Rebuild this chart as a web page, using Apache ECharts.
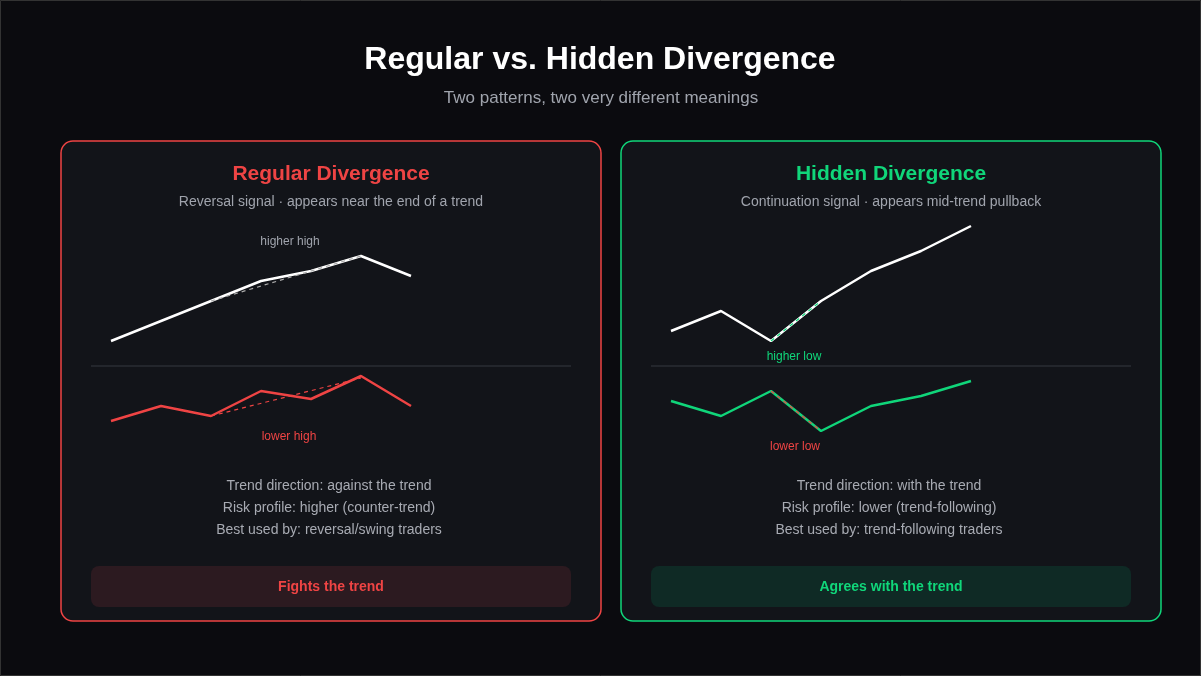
<!DOCTYPE html>
<html><head><meta charset="utf-8">
<script src="https://cdn.jsdelivr.net/npm/echarts@6/dist/echarts.min.js"></script>
<style>html,body{margin:0;padding:0;background:#0b0b0f}#c{width:1201px;height:676px}</style>
</head><body><div id="c"></div>
<script>
const xs = ['1','2','3','4','5','6','7'];
const regPrice = [25,45,65,85,95,110,90];
const regOsc = [45,60,50,75,67,90,60];
const hidPrice = [35,55,25,65,95,115,140];
const hidOsc = [65,50,75,35,60,70,85];
const regPriceDiv = [null,null,65,null,null,110,null];
const regOscDiv = [null,null,50,null,null,88,null];
const hidPriceDiv = [null,null,25,65,null,null,null];
const hidOscDiv = [null,null,75,35,null,null,null];

const RED='#ef4444', GREEN='#10d67a', FONT='Liberation Sans, Arial, sans-serif';
const chart = echarts.init(document.getElementById('c'));
function grid(left, top, h){return {left:left, top:top, width:300, height:h};}
const grids=[grid(111,220,146),grid(111,366,100),grid(671,220,146),grid(671,366,100)];
const maxes=[146,100,146,100];
const xAxis=grids.map((g,i)=>({type:'category',data:xs,gridIndex:i,boundaryGap:false,show:false}));
const yAxis=grids.map((g,i)=>({type:'value',gridIndex:i,min:0,max:maxes[i],show:false}));
function line(i,data,color,dashed){return {type:'line',xAxisIndex:i,yAxisIndex:i,data:data,connectNulls:true,symbol:'none',silent:true,
  lineStyle:{color:color,width:dashed?1.2:2.5,type:dashed?[4,4]:'solid'},z:dashed?3:2};}
const series=[
  line(0,regPrice,'#ffffff'),line(0,regPriceDiv,'#aaaaaa',true),
  line(1,regOsc,RED),line(1,regOscDiv,RED,true),
  line(2,hidPrice,'#ffffff'),line(2,hidPriceDiv,GREEN,true),
  line(3,hidOsc,GREEN),line(3,hidOscDiv,RED,true)
];
function txt(x,y,t,size,color,weight){return {type:'text',x:x,y:y,style:{text:t,fontSize:size,fill:color,fontWeight:weight||'normal',fontFamily:FONT,textAlign:'center',textVerticalAlign:'middle'},z:10};}
function card(x,color,title,sub,lines,foot,footBg){
  const cx=x+270;
  return [
    {type:'rect',shape:{x:x,y:141,width:540,height:480,r:12},style:{fill:'#121419',stroke:color,lineWidth:1.5},z:0},
    txt(cx,174,title,21,color,'bold'),
    txt(cx,202,sub,14,'#a0a4ad'),
    {type:'line',shape:{x1:x+30,y1:366,x2:x+510,y2:366},style:{stroke:'#2a2c33',lineWidth:1.5},z:1},
    txt(cx-2,486,lines[0],14,'#a8abb3'),txt(cx-2,508,lines[1],14,'#a8abb3'),txt(cx-2,530,lines[2],14,'#a8abb3'),
    {type:'rect',shape:{x:x+30,y:566,width:480,height:41,r:8},style:{fill:footBg},z:1},
    txt(cx,587,foot,14,color,'bold')
  ];
}
chart.setOption({
  backgroundColor:'#0b0b0f',animation:false,
  grid:grids,xAxis:xAxis,yAxis:yAxis,series:series,
  graphic:[
    {type:'rect',shape:{x:0.5,y:0.5,width:1200,height:675},style:{fill:'none',stroke:'#333',lineWidth:1},z:0},
    txt(600,60,'Regular vs. Hidden Divergence',32,'#ffffff','bold'),
    txt(601,98,'Two patterns, two very different meanings',17,'#a0a4ad'),
    ...card(61,RED,'Regular Divergence','Reversal signal · appears near the end of a trend',
      ['Trend direction: against the trend','Risk profile: higher (counter-trend)','Best used by: reversal/swing traders'],'Fights the trend','#2c1a20'),
    ...card(621,GREEN,'Hidden Divergence','Continuation signal · appears mid-trend pullback',
      ['Trend direction: with the trend','Risk profile: lower (trend-following)','Best used by: trend-following traders'],'Agrees with the trend','#0f2a25'),
    txt(290,242,'higher high',12,'#a0a4ad'),
    txt(289,437,'lower high',12,RED),
    txt(794,357,'higher low',12,GREEN),
    txt(795,447,'lower low',12,RED)
  ]
});
</script></body></html>
